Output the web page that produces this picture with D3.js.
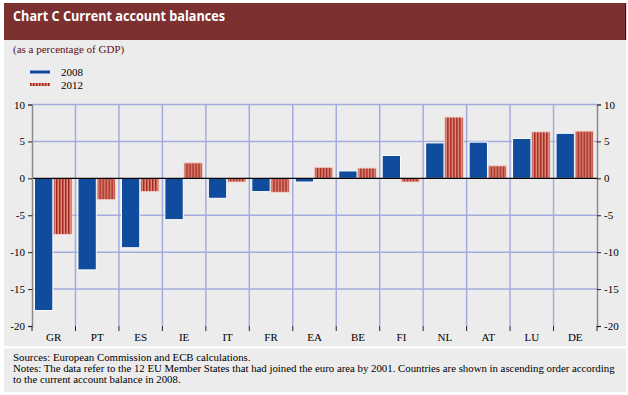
<!DOCTYPE html>
<html>
<head>
<meta charset="utf-8">
<script src="https://cdn.jsdelivr.net/npm/d3@7"></script>
<style>
  body { margin: 0; background: #fff; }
  svg text { font-family: "Liberation Serif", "Times New Roman", serif; }
</style>
</head>
<body>
<div id="chart"></div>
<script>
// data
var countries = ["GR", "PT", "ES", "IE", "IT", "FR", "EA", "BE", "FI", "NL", "AT", "LU", "DE"];
var values2008 = [-17.9, -12.4, -9.4, -5.6, -2.7, -1.8, -0.5, 1.0, 3.1, 4.8, 4.9, 5.4, 6.1];
var values2012 = [-7.6, -2.9, -1.8, 2.1, -0.5, -1.9, 1.5, 1.4, -0.5, 8.3, 1.7, 6.3, 6.4];
var seriesNames = ["2008", "2012"];
var yTicks = [10, 5, 0, -5, -10, -15, -20];

var W = 628, H = 395;
var plot = { left: 32, right: 597, top: 104.5, bottom: 326 };

var svg = d3.select("#chart").append("svg")
    .attr("width", W)
    .attr("height", H);

var defs = svg.append("defs");
var pat = defs.append("pattern")
    .attr("id", "stripes")
    .attr("patternUnits", "userSpaceOnUse")
    .attr("width", 3)
    .attr("height", 10);
pat.append("rect").attr("width", 3).attr("height", 10).attr("fill", "#dc8f80");
pat.append("rect").attr("width", 1.5).attr("height", 10).attr("fill", "#a8251c");

// background panels
svg.append("rect")
    .attr("x", 4).attr("y", 3)
    .attr("width", 622).attr("height", 389)
    .attr("fill", "#ececec");
svg.append("rect")
    .attr("x", 4).attr("y", 3)
    .attr("width", 621).attr("height", 37)
    .attr("fill", "#7d3030");
svg.append("rect")
    .attr("x", 625).attr("y", 3)
    .attr("width", 1.2).attr("height", 37)
    .attr("fill", "#4a0e0e");
svg.append("rect")
    .attr("x", 4).attr("y", 346)
    .attr("width", 622).attr("height", 2.5)
    .attr("fill", "#fff");

svg.append("text")
    .attr("x", 13).attr("y", 21)
    .attr("fill", "#fff")
    .attr("textLength", 212)
    .attr("lengthAdjust", "spacingAndGlyphs")
    .style("font-family", "'Open Sans', 'DejaVu Sans', sans-serif")
    .style("font-weight", "bold")
    .style("font-size", "15px")
    .text("Chart C Current account balances");

svg.append("text")
    .attr("x", 13).attr("y", 53)
    .attr("fill", "#5a1010")
    .style("font-size", "11px")
    .text("(as a percentage of GDP)");

// scales
var x = d3.scaleBand()
    .domain(countries)
    .range([plot.left, plot.right])
    .paddingInner(0)
    .paddingOuter(0);

var xs = d3.scaleBand()
    .domain(seriesNames)
    .range([2.5, x.bandwidth() - 3.5])
    .paddingInner(0.04);

var y = d3.scaleLinear()
    .domain([-20, 10])
    .range([plot.bottom, plot.top]);

var grid = svg.append("g");

// horizontal grid
grid.selectAll(".hg")
    .data(yTicks.filter(function (d) { return d !== 0 && d !== -20; }))
    .enter().append("line")
    .attr("x1", plot.left).attr("x2", plot.right)
    .attr("y1", function (d) { return y(d); })
    .attr("y2", function (d) { return y(d); })
    .attr("stroke", "#a4acde")
    .attr("stroke-width", 1.5);

// vertical grid at category boundaries
grid.selectAll(".vg")
    .data(countries.slice(1))
    .enter().append("line")
    .attr("x1", function (d) { return x(d); })
    .attr("x2", function (d) { return x(d); })
    .attr("y1", plot.top).attr("y2", plot.bottom)
    .attr("stroke", "#a4acde")
    .attr("stroke-width", 1.5);

// bars
var groups = svg.selectAll(".cat")
    .data(countries)
    .enter().append("g")
    .attr("transform", function (d) { return "translate(" + x(d) + ",0)"; });

groups.append("rect")
    .attr("x", xs("2008"))
    .attr("width", xs.bandwidth())
    .attr("y", function (d, i) { return y(Math.max(0, values2008[i])); })
    .attr("height", function (d, i) { return Math.abs(y(values2008[i]) - y(0)); })
    .attr("fill", "#0f4c9d")
    .attr("stroke", "#fff")
    .attr("stroke-width", 1);

groups.append("rect")
    .attr("x", xs("2012"))
    .attr("width", xs.bandwidth())
    .attr("y", function (d, i) { return y(Math.max(0, values2012[i])); })
    .attr("height", function (d, i) { return Math.abs(y(values2012[i]) - y(0)); })
    .attr("fill", "url(#stripes)")
    .attr("stroke", "#f2d4cc")
    .attr("stroke-width", 1);

// zero line
svg.append("line")
    .attr("x1", plot.left).attr("x2", plot.right)
    .attr("y1", y(0)).attr("y2", y(0))
    .attr("stroke", "#000")
    .attr("stroke-width", 1.2);

// plain hyphen minus like the original
var fmt = function (d) { return String(d); };

// left axis
var yLeft = svg.append("g")
    .attr("transform", "translate(" + plot.left + ",0)")
    .call(d3.axisLeft(y).tickValues(yTicks).tickSize(4).tickPadding(3).tickFormat(fmt));
yLeft.select(".domain").attr("stroke", "#8a8a8a").attr("stroke-width", 1.5);
yLeft.selectAll(".tick line").attr("stroke", "#222");

// right axis
var yRight = svg.append("g")
    .attr("transform", "translate(" + plot.right + ",0)")
    .call(d3.axisRight(y).tickValues(yTicks).tickSize(4).tickPadding(3).tickFormat(fmt));
yRight.select(".domain").attr("stroke", "#8a8a8a").attr("stroke-width", 1.5);
yRight.selectAll(".tick line").attr("stroke", "#222");

[yLeft, yRight].forEach(function (a) {
    a.attr("font-family", null).attr("font-size", null);
    a.selectAll("text")
        .style("font-family", "'Liberation Serif', serif")
        .style("font-size", "11px")
        .attr("fill", "#000");
});

// bottom axis: ticks at category boundaries, labels centered
var xAxisG = svg.append("g")
    .attr("transform", "translate(0," + plot.bottom + ")");
xAxisG.selectAll(".bt")
    .data(countries.concat(["_end"]))
    .enter().append("line")
    .attr("x1", function (d, i) { return i < countries.length ? x(d) : plot.right; })
    .attr("x2", function (d, i) { return i < countries.length ? x(d) : plot.right; })
    .attr("y1", 0).attr("y2", 5)
    .attr("stroke", "#222");
xAxisG.selectAll(".bl")
    .data(countries)
    .enter().append("text")
    .attr("x", function (d) { return x(d) + x.bandwidth() / 2; })
    .attr("y", 15)
    .attr("text-anchor", "middle")
    .style("font-size", "11px")
    .text(function (d) { return d; });

// legend
var legend = svg.append("g");
legend.append("rect")
    .attr("x", 30).attr("y", 70.5).attr("width", 20).attr("height", 3)
    .attr("fill", "#0f4c9d");
legend.append("rect")
    .attr("x", 30).attr("y", 83).attr("width", 20).attr("height", 3)
    .attr("fill", "url(#stripes)");
legend.append("text")
    .attr("x", 61).attr("y", 76)
    .style("font-size", "11px")
    .text(seriesNames[0]);
legend.append("text")
    .attr("x", 61).attr("y", 88.5)
    .style("font-size", "11px")
    .text(seriesNames[1]);

// footnotes
var notes = [
    "Sources: European Commission and ECB calculations.",
    "Notes: The data refer to the 12 EU Member States that had joined the euro area by 2001. Countries are shown in ascending order according",
    "to the current account balance in 2008."
];
svg.selectAll(".note")
    .data(notes)
    .enter().append("text")
    .attr("x", 13)
    .attr("y", function (d, i) { return 361 + i * 11; })
    .style("font-size", "10.8px")
    .text(function (d) { return d; });
</script>
</body>
</html>
